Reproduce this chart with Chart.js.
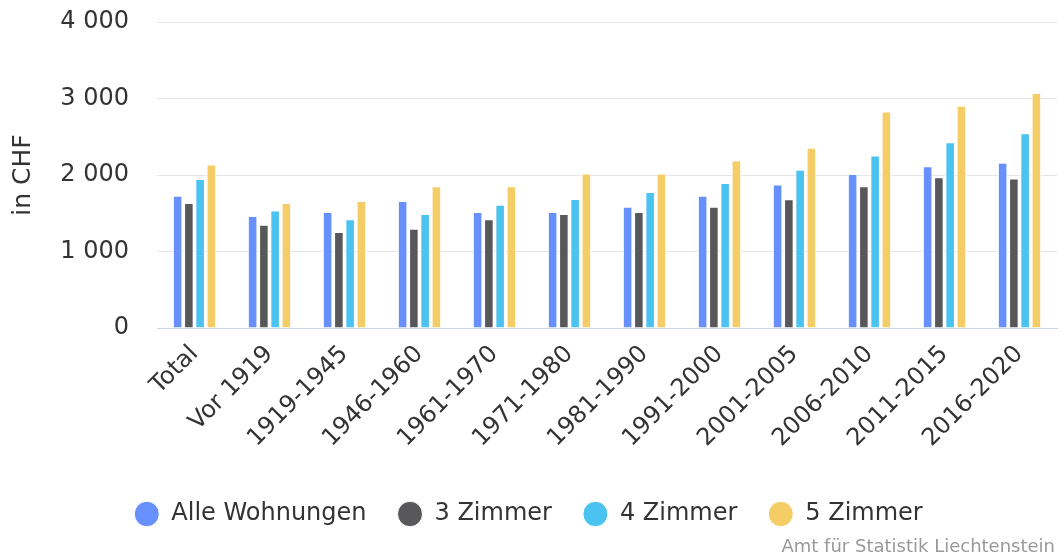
<!DOCTYPE html>
<html>
<head>
<meta charset="utf-8">
<script src="https://cdn.jsdelivr.net/npm/chart.js@4.4.1/dist/chart.umd.min.js"></script>
<style>
html,body{margin:0;padding:0;background:#fff;}
#wrap{width:1059px;height:558px;position:relative;}
</style>
</head>
<body>
<div id="wrap"><canvas id="c" width="1059" height="558"></canvas></div>
<script>
const categories = ["Total","Vor 1919","1919-1945","1946-1960","1961-1970","1971-1980","1981-1990","1991-2000","2001-2005","2006-2010","2011-2015","2016-2020"];
const seriesNames = ["Alle Wohnungen","3 Zimmer","4 Zimmer","5 Zimmer"];
const alleWohnungen = [1730,1464,1516,1660,1516,1516,1586,1730,1876,2014,2114,2159];
const zimmer3 = [1634,1350,1254,1297,1420,1490,1516,1586,1682,1852,1970,1953];
const zimmer4 = [1949,1537,1420,1490,1612,1686,1778,1896,2067,2254,2429,2547];
const zimmer5 = [2136,1634,1660,1852,1852,2018,2018,2188,2355,2830,2906,3072];
const yTicks = [0,1000,2000,3000,4000];
const yTitle = "in CHF";
const creditText = "Amt für Statistik Liechtenstein";
const colors = ["#6890fd","#58585a","#4bc3f0","#f5cd66"];

Chart.defaults.font.family = "'DejaVu Sans', sans-serif";

const seriesValues = [alleWohnungen, zimmer3, zimmer4, zimmer5];
const datasets = seriesNames.map((name, i) => ({
  label: name,
  data: seriesValues[i],
  backgroundColor: colors[i],
  borderColor: "#ffffff",
  borderWidth: 1,
  categoryPercentage: 0.6,
  barPercentage: 0.85
}));

const credits = {
  id: 'credits',
  afterDraw(chart) {
    const c = chart.ctx;
    c.save();
    c.font = "18px 'DejaVu Sans', sans-serif";
    c.fillStyle = '#999999';
    c.textAlign = 'right';
    c.textBaseline = 'middle';
    c.fillText(creditText, chart.width - 4, 547);
    c.restore();
  }
};

function fmt(v) {
  return String(v).replace(/\B(?=(\d{3})+(?!\d))/g, ' ');
}

new Chart(document.getElementById('c'), {
  type: 'bar',
  data: { labels: categories, datasets: datasets },
  options: {
    responsive: false,
    animation: false,
    layout: { padding: { left: 0, right: 2, top: 22, bottom: 22 } },
    plugins: {
      legend: {
        position: 'bottom',
        labels: {
          usePointStyle: true,
          pointStyle: 'circle',
          boxHeight: 18,
          pointStyleWidth: 25,
          padding: 31,
          color: '#333333',
          font: { size: 24 }
        }
      },
      tooltip: { enabled: false }
    },
    scales: {
      x: {
        grid: { display: false, drawTicks: false },
        border: { color: '#ccd6eb' },
        ticks: { maxRotation: 45, minRotation: 45, padding: 12, color: '#333333', font: { size: 24 }, autoSkip: false },
        afterFit(s) { s.height = 143; s.paddingTop = 0; s.paddingBottom = 0; }
      },
      y: {
        min: yTicks[0],
        max: yTicks[yTicks.length - 1],
        grid: { color: '#e6e6e6', drawTicks: false },
        border: { display: false },
        afterBuildTicks(s) { s.ticks = yTicks.map(v => ({ value: v })); },
        ticks: { padding: 28, color: '#333333', font: { size: 24 }, callback: v => fmt(v) },
        title: { display: true, text: yTitle, color: '#333333', font: { size: 25 }, padding: { top: 8, bottom: 0 } },
        afterFit(s) { s.width = 157; s.paddingTop = 0; s.paddingBottom = 0; }
      }
    }
  },
  plugins: [credits]
});
</script>
</body>
</html>
